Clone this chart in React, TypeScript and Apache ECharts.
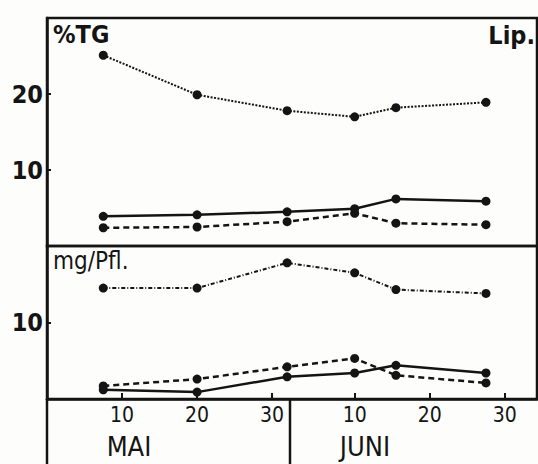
import React, { useEffect, useRef } from "react";
import * as echarts from "echarts";

// Day number counted from 30 April (May 1 = 1, June 1 = 32)
const sampleDays = [7.5, 20, 32, 41, 46.5, 58.5];

// Upper panel: % TG (Lip.)
const topDotted = [25.1, 19.9, 17.8, 17.0, 18.2, 18.9];
const topSolid = [3.9, 4.1, 4.5, 4.9, 6.2, 5.9];
const topDashed = [2.4, 2.5, 3.2, 4.3, 3.0, 2.8];

// Lower panel: mg/Pfl.
const botDashDot = [14.5, 14.5, 17.8, 16.5, 14.3, 13.8];
const botDashed = [1.7, 2.6, 4.2, 5.3, 3.1, 2.1];
const botSolid = [1.2, 0.9, 2.9, 3.4, 4.4, 3.4];

const xTickDays = [10, 20, 30, 41, 51, 61];
const topYLabels = [10, 20];
const botYLabels = [10];
const monthLabels = ["MAI", "JUNI"];

const INK = "#141414";
const FONT = "'DejaVu Sans Condensed', 'Liberation Sans', sans-serif";

function pairs(vals: number[]) {
  return sampleDays.map((d, i) => [d, vals[i]]);
}

export default function App() {
  const ref = useRef<HTMLDivElement>(null);
  useEffect(() => {
    if (!ref.current) return;
    const chart = echarts.init(ref.current, null, { renderer: "svg" });
    const mkSeries = (
      data: number[],
      idx: number,
      type: any,
      width: number
    ) => ({
      type: "line",
      xAxisIndex: idx,
      yAxisIndex: idx,
      data: pairs(data),
      symbol: "circle",
      symbolSize: 9,
      itemStyle: { color: INK },
      lineStyle: { color: INK, width, type },
    });
    const yLabelFmt = (allowed: number[]) => (v: number) =>
      allowed.includes(v) ? String(v) : "";
    chart.setOption({
      animation: false,
      backgroundColor: "#fdfdfb",
      grid: [
        { left: 47, top: 18, right: 1, height: 228, show: true, borderColor: INK, borderWidth: 2.5 },
        { left: 47, top: 246, right: 1, height: 153, show: true, borderColor: INK, borderWidth: 2.5 },
      ],
      xAxis: [
        { type: "value", gridIndex: 0, min: 0, max: 65.3, show: false },
        {
          type: "value",
          gridIndex: 1,
          min: 0,
          max: 65.3,
          splitLine: { show: false },
          axisLine: { show: true, lineStyle: { color: INK, width: 2.5 } },
          axisTick: {
            show: true,
            inside: true,
            length: 6,
            customValues: xTickDays,
            lineStyle: { color: INK, width: 2 },
          },
          axisLabel: {
            customValues: xTickDays,
            formatter: (v: number) => String(v > 31 ? v - 31 : v),
            color: INK,
            fontSize: 21,
            fontFamily: FONT,
            margin: 5,
          },
        },
      ],
      yAxis: [
        {
          type: "value",
          gridIndex: 0,
          min: 0,
          max: 30,
          interval: 10,
          splitLine: { show: false },
          axisLine: { show: true, lineStyle: { color: INK, width: 2.5 } },
          axisTick: { show: true, inside: true, length: 4, lineStyle: { color: INK, width: 2 } },
          axisLabel: {
            formatter: yLabelFmt(topYLabels),
            color: INK,
            fontSize: 25,
            fontWeight: "bold",
            fontFamily: FONT,
            margin: 4,
          },
        },
        {
          type: "value",
          gridIndex: 1,
          min: 0,
          max: 20,
          interval: 10,
          splitLine: { show: false },
          axisLine: { show: true, lineStyle: { color: INK, width: 2.5 } },
          axisTick: { show: true, inside: true, length: 4, lineStyle: { color: INK, width: 2 } },
          axisLabel: {
            formatter: yLabelFmt(botYLabels),
            color: INK,
            fontSize: 25,
            fontWeight: "bold",
            fontFamily: FONT,
            margin: 4,
          },
        },
      ],
      series: [
        mkSeries(topDotted, 0, [2, 1.5], 2),
        mkSeries(topSolid, 0, "solid", 2.5),
        mkSeries(topDashed, 0, [6, 4], 2.5),
        mkSeries(botDashDot, 1, [4, 2, 1, 2], 2),
        mkSeries(botDashed, 1, [6, 4], 2.5),
        mkSeries(botSolid, 1, "solid", 2.5),
      ],
      graphic: [
        { type: "line", shape: { x1: 47, y1: 399, x2: 47, y2: 464 }, style: { stroke: INK, lineWidth: 2.5 } },
        { type: "line", shape: { x1: 290, y1: 399, x2: 290, y2: 464 }, style: { stroke: INK, lineWidth: 2.5 } },
        {
          type: "text",
          x: 53,
          y: 22,
          style: { text: "%TG", fontSize: 25, fontWeight: "bold", fontFamily: FONT, fill: INK },
        },
        {
          type: "text",
          x: 535,
          y: 23,
          style: { text: "Lip.", fontSize: 25, fontWeight: "bold", fontFamily: FONT, fill: INK, align: "right" },
        },
        {
          type: "text",
          x: 53,
          y: 249,
          style: { text: "mg/Pfl.", fontSize: 24, fontFamily: FONT, fill: INK },
        },
        {
          type: "text",
          x: 129,
          y: 433,
          style: { text: monthLabels[0], fontSize: 27, fontFamily: FONT, fill: INK, align: "center" },
        },
        {
          type: "text",
          x: 365,
          y: 433,
          style: { text: monthLabels[1], fontSize: 27, fontFamily: FONT, fill: INK, align: "center" },
        },
      ],
    });
    return () => chart.dispose();
  }, []);
  return (
    <div
      ref={ref}
      style={{ position: "fixed", left: 0, top: 0, width: 538, height: 464 }}
    />
  );
}
